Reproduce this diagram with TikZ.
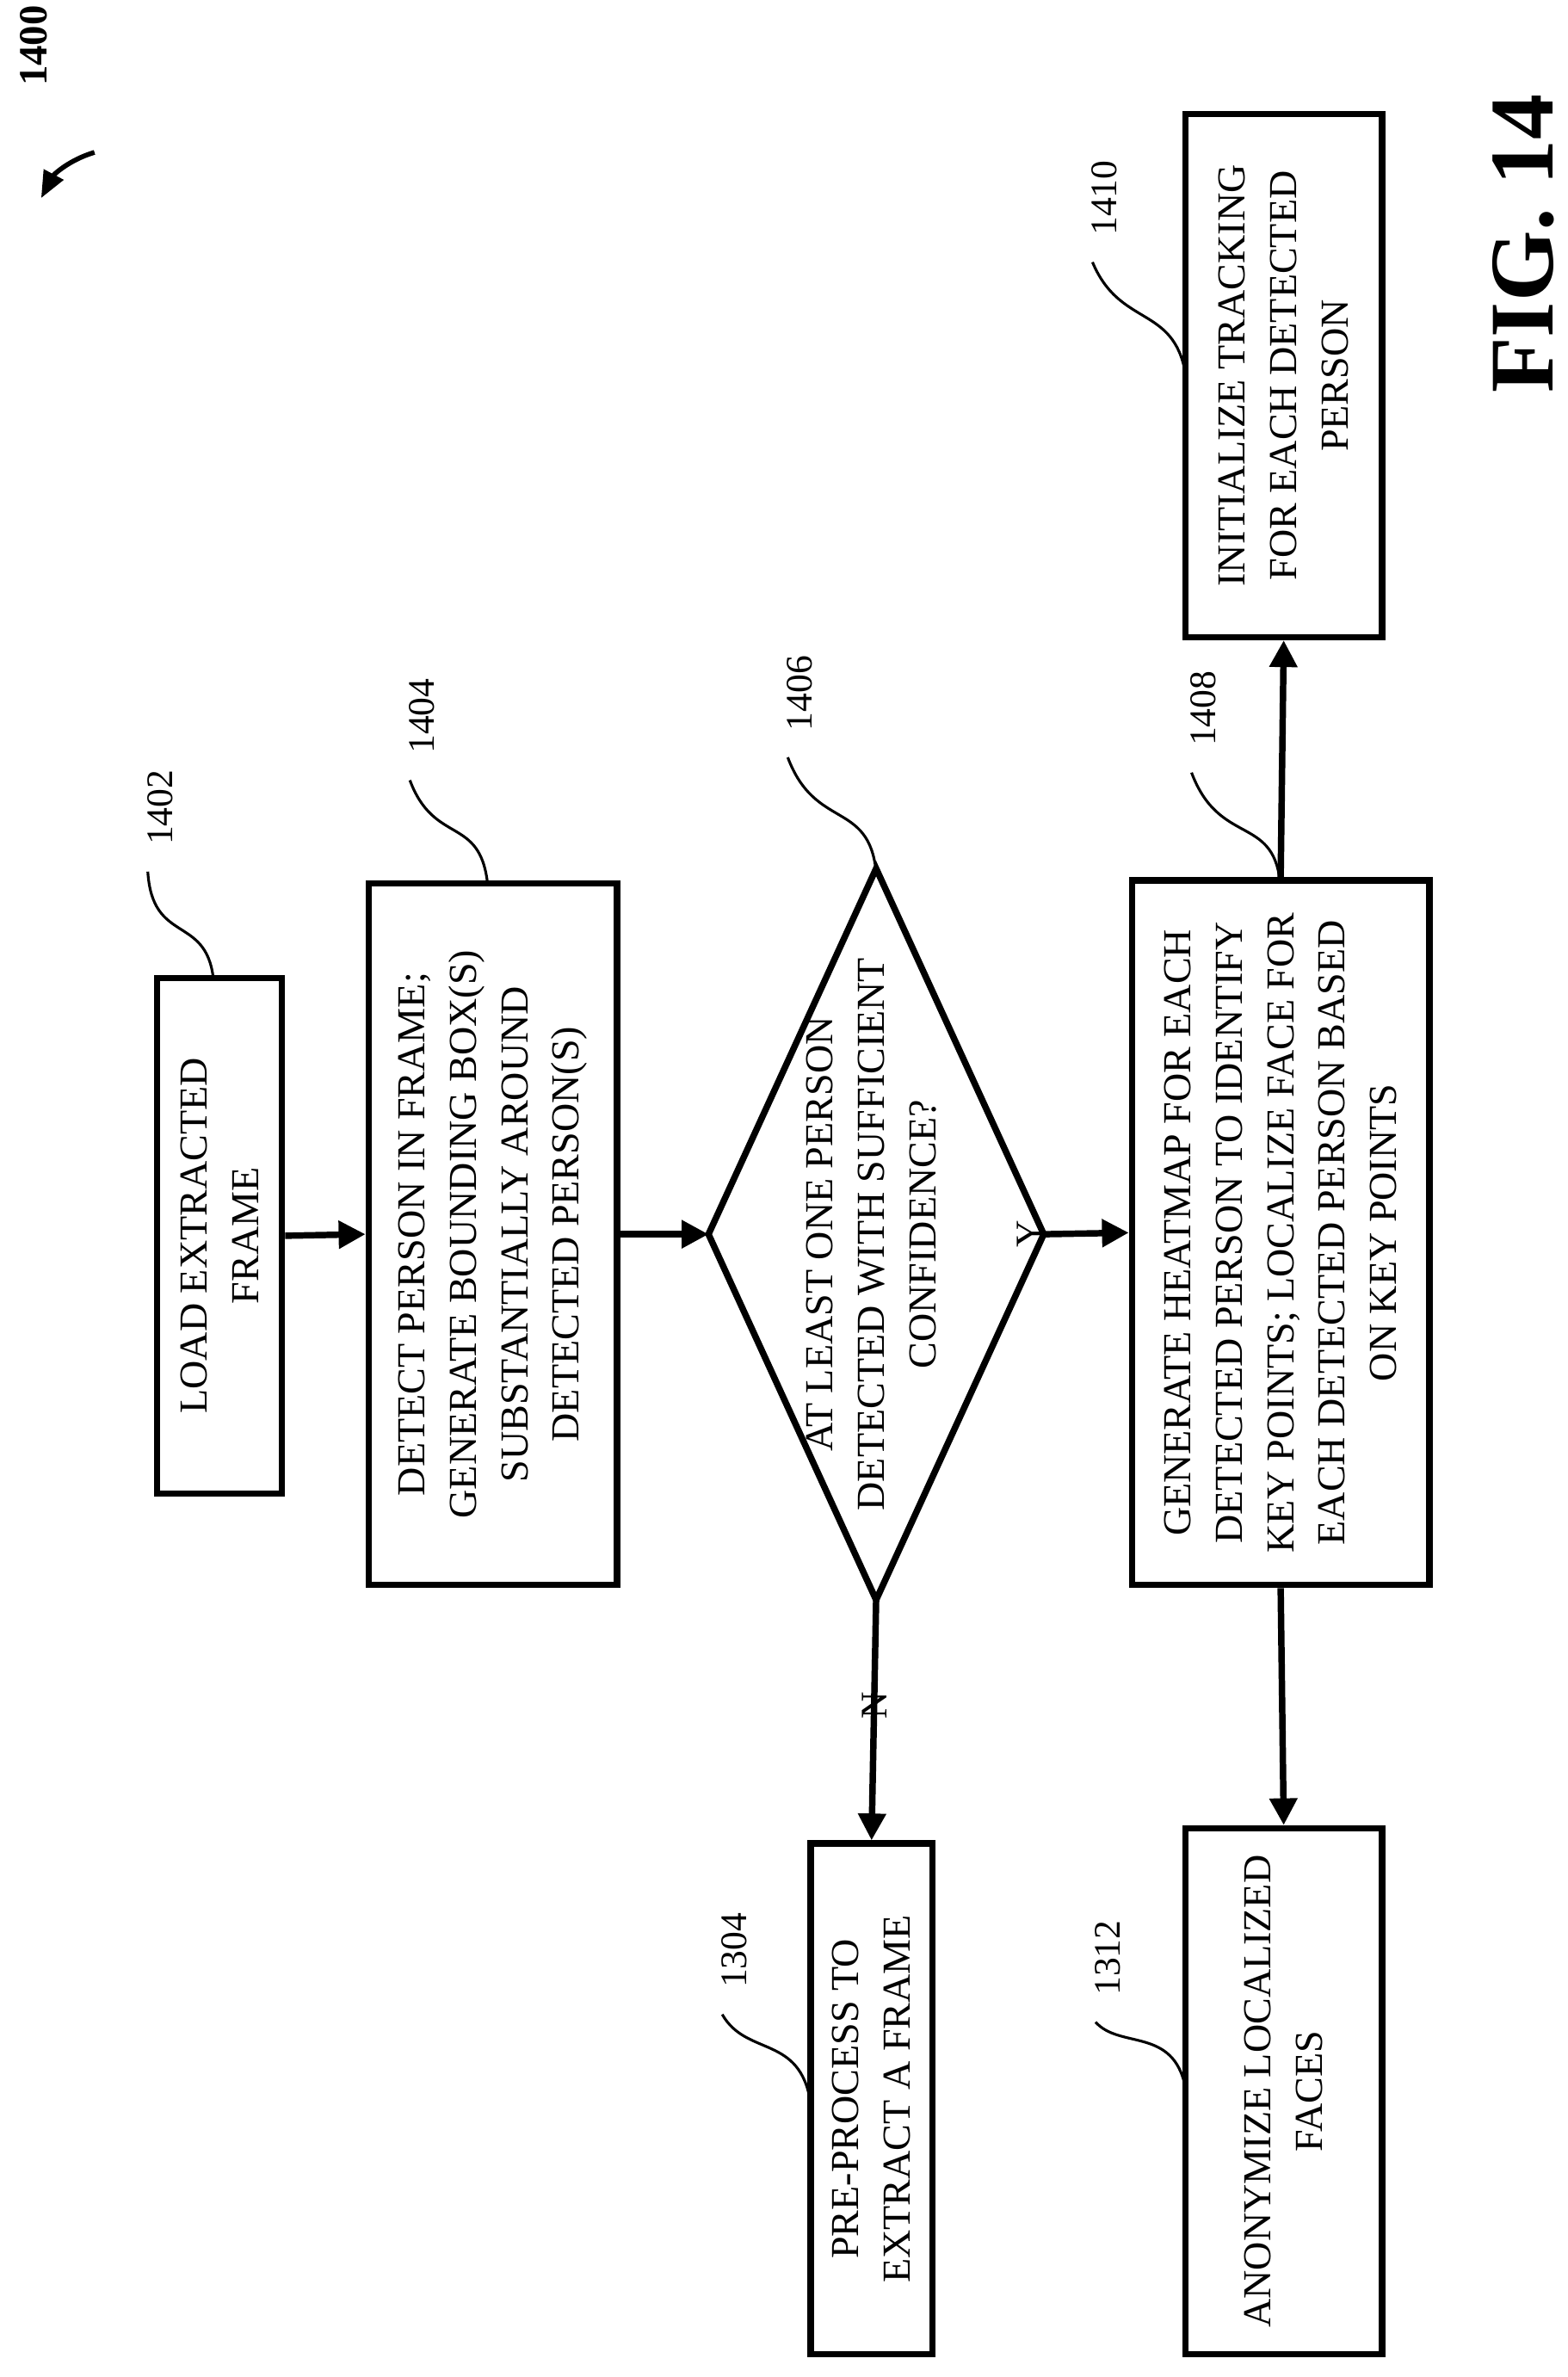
\documentclass[tikz,border=0pt]{standalone}
\usepackage{fontspec}
\setmainfont{Liberation Serif}
\usetikzlibrary{arrows.meta}
\begin{document}
\begin{tikzpicture}[x=0.01cm,y=-0.01cm,
 box/.style={draw,line width=1.2pt,rotate=90,align=center,inner sep=0pt,font=\fontsize{7.4}{9.6}\selectfont},
 lbl/.style={rotate=90,font=\fontsize{7}{8}\selectfont},
 arr/.style={line width=1.2pt,-{Triangle[length=5pt,width=5pt]}},
 lead/.style={line width=0.5pt}]
\useasboundingbox (0,0) rectangle (1029,1560);
\node[box,minimum width=3.38cm,minimum height=0.82cm] (b1402) at (144,811) {LOAD EXTRACTED\\FRAME};
\node[box,minimum width=4.6cm,minimum height=1.63cm] (b1404) at (323.5,810) {DETECT PERSON IN FRAME;\\GENERATE BOUNDING BOX(S)\\SUBSTANTIALLY AROUND\\DETECTED PERSON(S)};
\coordinate (dl) at (465,810); \coordinate (dt) at (575,570);
\coordinate (dr) at (685,810); \coordinate (db) at (575,1050);
\draw[line width=1.2pt] (dl)--(dt)--(dr)--(db)--cycle;
\node[rotate=90,align=center,font=\fontsize{7.4}{9.6}\selectfont] (t1406) at (572,810) {AT LEAST ONE PERSON\\DETECTED WITH SUFFICIENT\\CONFIDENCE?};
\node[box,minimum width=4.62cm,minimum height=1.95cm] (b1408) at (840.5,809) {GENERATE HEATMAP FOR EACH\\DETECTED PERSON TO IDENTIFY\\KEY POINTS; LOCALIZE FACE FOR\\EACH DETECTED PERSON BASED\\ON KEY POINTS};
\node[box,minimum width=3.43cm,minimum height=1.29cm] (b1410) at (842.5,246.5) {INITIALIZE TRACKING\\FOR EACH DETECTED\\PERSON};
\node[box,minimum width=3.35cm,minimum height=0.8cm] (b1304) at (572,1377.5) {PRE-PROCESS TO\\EXTRACT A FRAME};
\node[box,minimum width=3.45cm,minimum height=1.29cm] (b1312) at (842.5,1372.5) {ANONYMIZE LOCALIZED\\FACES};
\draw[arr] (b1402.south) -- (b1404.north);
\draw[arr] (b1404.south) -- (dl);
\draw[arr] (dr) -- node[lbl,above=2pt,pos=0.35] (ly) {Y} (b1408.north);
\draw[arr] (db) -- node[lbl,left=2pt,pos=0.25] (ln) {N} (b1304.east);
\draw[arr] (b1408.west) -- (b1312.east);
\draw[arr] (b1408.east) -- (b1410.west);
% labels
\node[lbl] (l1402) at (105,530) {1402};
\node[lbl] (l1404) at (277,470) {1404};
\node[lbl] (l1406) at (525,455) {1406};
\node[lbl] (l1408) at (790,465) {1408};
\node[lbl] (l1410) at (725,130) {1410};
\node[lbl] (l1304) at (482,1280) {1304};
\node[lbl] (l1312) at (727,1285) {1312};
\coordinate (a1) at (140,642); \draw[lead] (l1402.west) ++(-8,5) .. controls (100,620) and (135,600) .. (a1);
\coordinate (a2) at (320,580); \draw[lead] (l1404.west) ++(-8,5) .. controls (285,555) and (315,535) .. (a2);
\coordinate (a3) at (575,572); \draw[lead] (l1406.west) ++(-8,5) .. controls (535,545) and (570,525) .. (a3);
\coordinate (a4) at (840,578); \draw[lead] (l1408.west) ++(-8,5) .. controls (800,555) and (835,535) .. (a4);
\coordinate (a5) at (778,245); \draw[lead] (l1410.west) ++(-8,5) .. controls (735,215) and (770,200) .. (a5);
\coordinate (a6) at (532,1380); \draw[lead] (l1304.west) ++(-8,5) .. controls (490,1350) and (525,1335) .. (a6);
\coordinate (a7) at (778,1370); \draw[lead] (l1312.west) ++(-8,5) .. controls (735,1345) and (770,1330) .. (a7);
% figure labels
\node[rotate=90,font=\bfseries\fontsize{7.5}{9}\selectfont] (l1400) at (22,30) {1400};
\coordinate (p1) at (62,100); \coordinate (p2) at (27,130);
\draw[line width=0.9pt,-{Triangle[length=5pt,width=4pt]}] (p1) .. controls (45,105) and (35,115) .. (p2);
\node[rotate=90,font=\bfseries\fontsize{17}{20}\selectfont] (fig) at (1000,160) {FIG. 14};
\end{tikzpicture}
\end{document}
